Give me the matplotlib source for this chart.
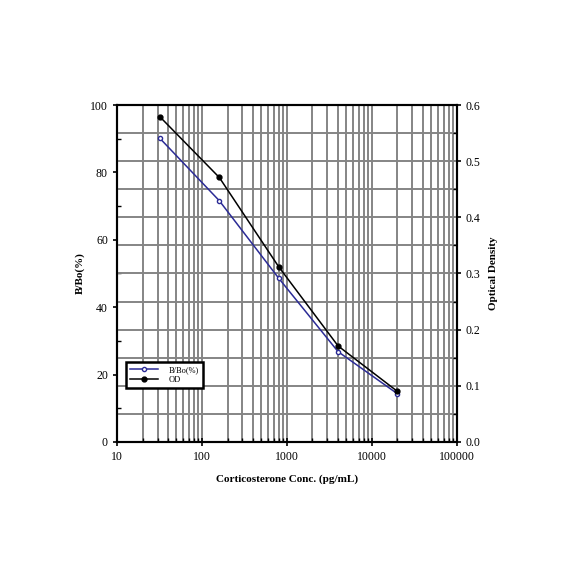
import numpy as np
import matplotlib
matplotlib.use('Agg')
import matplotlib.pyplot as plt
from matplotlib.ticker import LogLocator, MultipleLocator, FixedFormatter, FixedLocator

plt.rcParams['font.family'] = 'Liberation Serif'

conc = [32, 160, 800, 4000, 20000]
b_bo = [90.1, 71.6, 48.6, 26.8, 14.3]
od = [0.579, 0.471, 0.312, 0.171, 0.090]

x_ticks = [10, 100, 1000, 10000, 100000]
x_labels = ['10', '100', '1000', '10000', '100000']

fig = plt.figure(figsize=(5.84, 5.84), dpi=100)
ax = fig.add_axes([0.2003, 0.2432, 0.582, 0.577])
ax2 = ax.twinx()

ax.set_xscale('log')
ax.set_xlim(10, 100000)
ax.set_ylim(0, 100)
ax2.set_ylim(0, 0.6)

# grid: vertical at every log minor tick, horizontal every 0.05 OD
ax.xaxis.set_major_locator(FixedLocator(x_ticks))
ax.xaxis.set_major_formatter(FixedFormatter(x_labels))
ax.xaxis.set_minor_locator(LogLocator(base=10, subs=np.arange(2, 10)))
ax.xaxis.set_minor_formatter(plt.NullFormatter())
ax.grid(True, which='both', axis='x', color='#858585', linewidth=1.4)
ax2.yaxis.set_major_locator(MultipleLocator(0.1))
ax2.yaxis.set_minor_locator(MultipleLocator(0.05))
ax2.grid(True, which='both', axis='y', color='#858585', linewidth=1.4)
ax2.set_axisbelow(True)
ax.set_axisbelow(True)

ax.yaxis.set_major_locator(MultipleLocator(20))
ax.yaxis.set_minor_locator(MultipleLocator(10))

ax.tick_params(axis='x', which='major', direction='inout', length=6, width=1.2, labelsize=8.5)
ax.tick_params(axis='x', which='minor', direction='in', length=3, width=1)
ax.tick_params(axis='y', which='major', direction='out', length=3, width=1.2, labelsize=8.5)
ax.tick_params(axis='y', which='minor', direction='in', length=3, width=1)
ax2.tick_params(axis='y', which='major', direction='out', length=3, width=1.2, labelsize=8.5)
ax2.tick_params(axis='y', which='minor', direction='in', length=3, width=1)
ax2.yaxis.set_major_formatter(plt.FuncFormatter(lambda v, p: '%.1f' % v))

l1, = ax2.plot(conc, np.array(b_bo) * 0.006, color='#2b2b96', linewidth=1.1,
               marker='o', markersize=3, markerfacecolor='white',
               markeredgecolor='#2b2b96', markeredgewidth=1, label='B/Bo(%)')
l2, = ax2.plot(conc, od, color='black', linewidth=1.1, marker='o',
               markersize=3.5, label='OD')

for a in [ax, ax2]:
    for s in a.spines.values():
        s.set_linewidth(1.5)

ax.set_xlabel('Corticosterone Conc. (pg/mL)', fontsize=8, fontweight='bold', labelpad=8)
ax.set_ylabel('B/Bo(%)', fontsize=8, fontweight='bold', labelpad=4)
ax2.set_ylabel('Optical Density', fontsize=8, fontweight='bold', rotation=90, labelpad=6)

leg = ax2.legend(handles=[l1, l2], loc='lower left', bbox_to_anchor=(0.028, 0.16),
                 fontsize=6, frameon=True, fancybox=False, framealpha=1,
                 edgecolor='black', handlelength=3.3, borderpad=0.45,
                 labelspacing=0.3, handletextpad=1.3, borderaxespad=0)
leg.get_frame().set_linewidth(1.8)

fig.savefig('out.png', dpi=100)
